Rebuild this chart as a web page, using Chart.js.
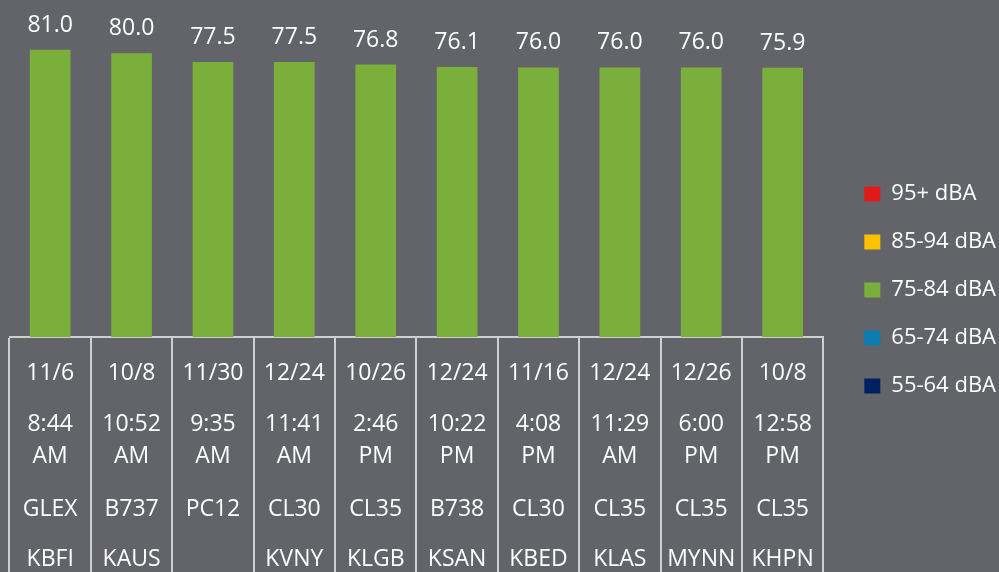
<!DOCTYPE html>
<html>
<head>
<meta charset="utf-8">
<script src="https://cdn.jsdelivr.net/npm/chart.js@4.4.0/dist/chart.umd.min.js"></script>
<style>
  html, body { margin: 0; padding: 0; background: #636469; }
  #wrap { width: 999px; height: 572px; }
</style>
</head>
<body>
<div id="wrap"><canvas id="noiseChart"></canvas></div>
<script>
// valores
const dates = ['11/6', '10/8', '11/30', '12/24', '10/26', '12/24', '11/16', '12/24', '12/26', '10/8'];
const times = ['8:44 AM', '10:52 AM', '9:35 AM', '11:41 AM', '2:46 PM', '10:22 PM', '4:08 PM', '11:29 AM', '6:00 PM', '12:58 PM'];
const aircraft = ['GLEX', 'B737', 'PC12', 'CL30', 'CL35', 'B738', 'CL30', 'CL35', 'CL35', 'CL35'];
const airports = ['KBFI', 'KAUS', '', 'KVNY', 'KLGB', 'KSAN', 'KBED', 'KLAS', 'MYNN', 'KHPN'];
const levels = [81.0, 80.0, 77.5, 77.5, 76.8, 76.1, 76.0, 76.0, 76.0, 75.9];
const bands = ['95+ dBA', '85-94 dBA', '75-84 dBA', '65-74 dBA', '55-64 dBA'];
const bandColors = ['#e01a1a', '#ffc000', '#7aaf3c', '#0b7bb0', '#002060'];

const lineColor = '#cfcfcf';
const textColor = '#ffffff';

// rotulos de valor em cima das barras
const valueLabels = {
    id: 'valueLabels',
    afterDatasetsDraw(chart) {
        const ctx = chart.ctx;
        const meta = chart.getDatasetMeta(0);
        ctx.save();
        ctx.fillStyle = textColor;
        ctx.font = '23px "Open Sans"';
        ctx.textAlign = 'center';
        ctx.textBaseline = 'alphabetic';
        meta.data.forEach((bar, i) => {
            ctx.fillText(levels[i].toFixed(1), bar.x, bar.y - 18);
        });
        ctx.restore();
    }
};

// tabela abaixo do eixo
const tableRows = {
    id: 'tableRows',
    afterDraw(chart) {
        const ctx = chart.ctx;
        const xScale = chart.scales.x;
        const base = chart.chartArea.bottom;
        ctx.save();
        ctx.fillStyle = textColor;
        ctx.font = '23px "Open Sans"';
        ctx.textAlign = 'center';
        ctx.textBaseline = 'middle';
        dates.forEach((d, i) => {
            const x = xScale.getPixelForValue(i);
            const t = times[i].split(' ');
            ctx.fillText(d, x, base + 36);
            ctx.fillText(t[0], x, base + 87);
            ctx.fillText(t[1], x, base + 119);
            ctx.fillText(aircraft[i], x, base + 172);
            ctx.fillText(airports[i], x, base + 222);
        });
        ctx.restore();
    }
};

new Chart(document.getElementById('noiseChart'), {
    type: 'bar',
    data: {
        labels: dates,
        datasets: [{
            label: '75-84 dBA',
            data: levels,
            backgroundColor: bandColors[2],
            barPercentage: 0.5,
            categoryPercentage: 1.0
        }]
    },
    options: {
        responsive: true,
        maintainAspectRatio: false,
        animation: false,
        layout: { padding: { left: 9.5, right: -7, top: 0, bottom: 0 } },
        scales: {
            x: {
                grid: {
                    offset: true,
                    drawOnChartArea: false,
                    drawTicks: true,
                    tickLength: 240,
                    color: lineColor,
                    lineWidth: 2
                },
                border: { display: true, color: lineColor, width: 2 },
                ticks: { display: false },
                afterFit: function(scale) { scale.height = 235; }
            },
            y: {
                position: 'right',
                min: 0,
                max: 95,
                grid: { display: false },
                border: { display: false },
                ticks: { display: false },
                afterFit: function(scale) { scale.width = 15; }
            }
        },
        plugins: {
            tooltip: { enabled: false },
            legend: {
                position: 'right',
                title: {
                    display: true,
                    text: ' ',
                    color: 'rgba(0,0,0,0)',
                    font: { size: 5 },
                    padding: 1
                },
                labels: {
                    color: textColor,
                    font: { family: '"Open Sans"', size: 22 },
                    boxWidth: 16,
                    boxHeight: 15,
                    padding: 26,
                    generateLabels: function() {
                        return bands.map((b, i) => ({
                            text: b,
                            fillStyle: bandColors[i],
                            strokeStyle: bandColors[i],
                            lineWidth: 0,
                            fontColor: textColor,
                            datasetIndex: 0
                        }));
                    }
                }
            }
        }
    },
    plugins: [valueLabels, tableRows]
});
</script>
</body>
</html>
